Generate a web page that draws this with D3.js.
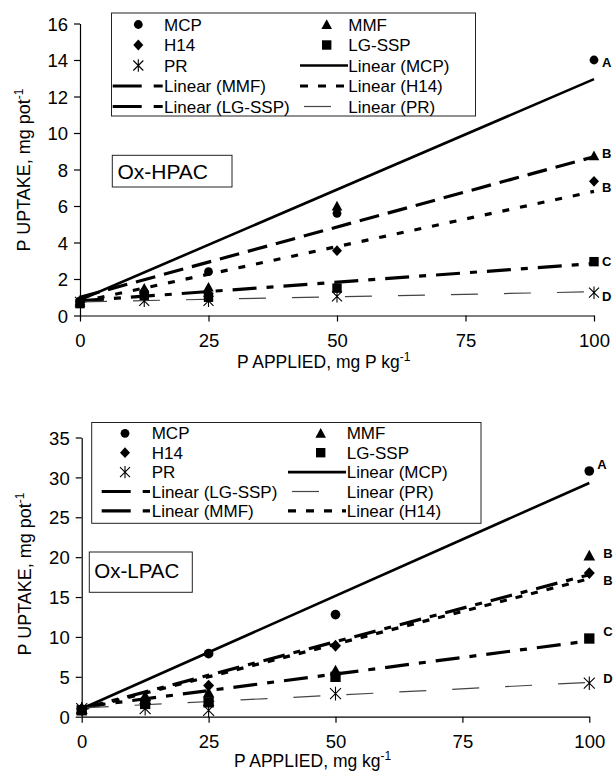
<!DOCTYPE html>
<html><head><meta charset="utf-8">
<script src="https://cdn.jsdelivr.net/npm/d3@7"></script>
<style>
body{margin:0;background:#fff}
svg{display:block}
text{font-family:"Liberation Sans",Arial,sans-serif;fill:#000}
</style>
</head><body>
<svg id="c" width="613" height="772"></svg>
<script>
// ---------- DATA ----------
const xValues = [0, 12.5, 25, 50, 100];
const seriesNames = ["MCP", "MMF", "H14", "LG-SSP", "PR"];
const xTicks = [0, 25, 50, 75, 100];

// Ox-HPAC (top panel)
const hpacMCP   = [0.8, 1.3, 2.4, 5.6, 14.0];
const hpacMMF   = [0.8, 1.5, 1.55, 6.0, 8.75];
const hpacH14   = [0.75, 1.2, 1.2, 3.55, 7.35];
const hpacLGSSP = [0.65, 1.1, 1.0, 1.5, 2.95];
const hpacPR    = [0.75, 0.8, 0.8, 1.05, 1.25];
const hpacTrendAt0   = [0.85, 1.0, 0.75, 0.8, 0.75];
const hpacTrendAt100 = [12.95, 8.7, 6.8, 2.85, 1.3];
const hpacYTicks = [0, 2, 4, 6, 8, 10, 12, 14, 16];
const hpacLetters = ["A", "B", "B", "C", "D"];

// Ox-LPAC (bottom panel)
const lpacMCP   = [0.9, 2.0, 7.9, 12.8, 30.8];
const lpacMMF   = [1.0, 2.6, 3.0, 5.8, 20.2];
const lpacH14   = [1.0, 2.0, 3.9, 8.9, 18.0];
const lpacLGSSP = [0.8, 1.6, 1.8, 5.0, 9.8];
const lpacPR    = [1.0, 1.0, 0.8, 2.9, 4.2];
const lpacTrendAt0   = [1.0, 1.0, 0.9, 1.2, 1.1];
const lpacTrendAt100 = [29.3, 17.8, 17.3, 9.5, 4.3];
const lpacYTicks = [0, 5, 10, 15, 20, 25, 30, 35];
const lpacLetters = ["A", "B", "B", "C", "D"];

const hpacLegendOrder = ["MCP","MMF","H14","LG-SSP","PR","Linear (MCP)","Linear (MMF)","Linear (H14)","Linear (LG-SSP)","Linear (PR)"];
const lpacLegendOrder = ["MCP","MMF","H14","LG-SSP","PR","Linear (MCP)","Linear (LG-SSP)","Linear (PR)","Linear (MMF)","Linear (H14)"];

// ---------- STYLE / LAYOUT ----------
const markerTypes = {"MCP":"circle","MMF":"triangle","H14":"diamond","LG-SSP":"square","PR":"star"};
const FONT = '"Liberation Sans",Arial,sans-serif';

const panels = [
  {
    name: "Ox-HPAC",
    series: [hpacMCP, hpacMMF, hpacH14, hpacLGSSP, hpacPR],
    t0: hpacTrendAt0, t1: hpacTrendAt100,
    yTicks: hpacYTicks, yMax: 16, letters: hpacLetters,
    xr: [80, 594], yr: [315.5, 23.5],
    xTitle: "P APPLIED, mg P kg", xTitleX: 237, xTitleY: 368, tickY: 347,
    yTitleX: 30, yTitleY: 170,
    lineStyles: [
      {w:2.6, dash:null, c:"#000"},
      {w:3.2, dash:"20,9", c:"#000"},
      {w:3.2, dash:"7,11", c:"#000"},
      {w:3.2, dash:"24,10,7,10", c:"#000"},
      {w:1.2, dash:"27,26", c:"#444"}
    ],
    letterOff: [[8,2],[8,-2.5],[8,6],[8,0],[8,4]],
    mScale: 1,
    legend: {order: hpacLegendOrder, box:[111.5,13,475.5,116], row0:24.5, dy:20.5,
             cols:[{m:138.3, t:164, l0:112.7, l1:163},{m:326.7, t:348.3, l0:300, l1:348}]},
    label: {box:[112.3,155.3,232,187], tx:117.4, ty:178.5, fs:21}
  },
  {
    name: "Ox-LPAC",
    series: [lpacMCP, lpacMMF, lpacH14, lpacLGSSP, lpacPR],
    t0: lpacTrendAt0, t1: lpacTrendAt100,
    yTicks: lpacYTicks, yMax: 35, letters: lpacLetters,
    xr: [81.7, 589.3], yr: [716.7, 437.5],
    xTitle: "P APPLIED, mg kg", xTitleX: 234, xTitleY: 767, tickY: 748,
    yTitleX: 31, yTitleY: 574,
    lineStyles: [
      {w:2.6, dash:null, c:"#000"},
      {w:3.2, dash:"22,9,7,9", c:"#000"},
      {w:3.2, dash:"7,9", c:"#000"},
      {w:3.2, dash:"24,10,7,10", c:"#000"},
      {w:1.2, dash:"27,26", c:"#444"}
    ],
    letterOff: [[8,-7],[14,-2],[14,7],[14,-7],[14,-5]],
    mScale: 1.1,
    legend: {order: lpacLegendOrder, box:[91.7,422.5,481,523.3], row0:433.3, dy:19.4,
             cols:[{m:125, t:151.7, l0:101.7, l1:150},{m:320.7, t:346.7, l0:288, l1:346}]},
    label: {box:[89.3,552,192.3,592.3], tx:94.3, ty:578.3, fs:20.5}
  }
];

const svg = d3.select("#c");
svg.append("rect").attr("width",613).attr("height",772).attr("fill","#fff");

function drawMarker(g, type, cx, cy, s) {
  s = s || 1;
  if (type === "circle") {
    g.append("circle").attr("cx",cx).attr("cy",cy).attr("r",4.4*s).attr("fill","#000");
  } else if (type === "triangle") {
    g.append("path").attr("d",`M${cx},${cy-5.2*s}L${cx+5.3*s},${cy+4.4*s}L${cx-5.3*s},${cy+4.4*s}Z`).attr("fill","#000");
  } else if (type === "diamond") {
    g.append("path").attr("d",`M${cx},${cy-5.4*s}L${cx+5*s},${cy}L${cx},${cy+5.4*s}L${cx-5*s},${cy}Z`).attr("fill","#000");
  } else if (type === "square") {
    g.append("rect").attr("x",cx-4.7*s).attr("y",cy-4.7*s).attr("width",9.4*s).attr("height",9.4*s).attr("fill","#000");
  } else if (type === "star") {
    const a = 5*s, b = 6.2*s;
    g.append("path").attr("d",`M${cx-a},${cy-a}L${cx+a},${cy+a}M${cx+a},${cy-a}L${cx-a},${cy+a}M${cx},${cy-b}L${cx},${cy+b}`)
      .attr("stroke","#000").attr("stroke-width",1.1).attr("fill","none");
  }
}

panels.forEach(p => {
  const g = svg.append("g");
  const x = d3.scaleLinear().domain([0,100]).range(p.xr);
  const y = d3.scaleLinear().domain([0,p.yMax]).range(p.yr);

  // axes
  const yAxis = d3.axisLeft(y).tickValues(p.yTicks).tickSize(6).tickSizeOuter(0).tickFormat(d3.format("d"));
  const ya = g.append("g").attr("transform",`translate(${p.xr[0]},0)`).call(yAxis);
  ya.select(".domain").attr("stroke","#000").attr("stroke-width",1.2);
  ya.selectAll(".tick line").attr("stroke","#000").attr("stroke-width",1.2);
  ya.selectAll(".tick text").attr("x",-12).attr("dy","0.36em").style("font-family",FONT).style("font-size","18.5px").attr("fill","#000");

  const xAxis = d3.axisBottom(x).tickValues(xTicks).tickSize(6).tickSizeOuter(0).tickFormat(d3.format("d"));
  const xa = g.append("g").attr("transform",`translate(0,${p.yr[0]})`).call(xAxis);
  xa.select(".domain").attr("stroke","#000").attr("stroke-width",1.2);
  xa.selectAll(".tick line").attr("stroke","#000").attr("stroke-width",1.2);
  xa.selectAll(".tick text").attr("y", p.tickY - p.yr[0]).attr("dy",0).style("font-family",FONT).style("font-size","18.5px").attr("fill","#000");

  // axis titles
  const xt = g.append("text").attr("x",p.xTitleX).attr("y",p.xTitleY).style("font-size","17.5px").text(p.xTitle);
  xt.append("tspan").attr("dy",-7).style("font-size","12px").text("-1");

  const yt = g.append("text").attr("transform",`translate(${p.yTitleX},${p.yTitleY}) rotate(-90)`)
    .attr("text-anchor","middle").style("font-size","18px").text("P UPTAKE, mg pot");
  yt.append("tspan").attr("dy",-7).style("font-size","12px").text("-1");

  // trend lines
  const line = d3.line().x(d => x(d[0])).y(d => y(d[1]));
  p.lineStyles.forEach((st, i) => {
    g.append("path").datum([[0,p.t0[i]],[100,p.t1[i]]]).attr("d",line)
      .attr("fill","none").attr("stroke",st.c).attr("stroke-width",st.w)
      .attr("stroke-dasharray",st.dash);
  });

  // markers
  p.series.forEach((vals, i) => {
    const type = markerTypes[seriesNames[i]];
    vals.forEach((v, j) => drawMarker(g, type, x(xValues[j]), y(v), p.mScale));
  });

  // letters
  p.letters.forEach((L, i) => {
    const v = p.series[i][xValues.length-1];
    g.append("text").attr("x", x(100)+p.letterOff[i][0]).attr("y", y(v)+p.letterOff[i][1]+4.6)
      .style("font-size","13px").style("font-weight","bold").text(L);
  });

  // legend
  const lg = p.legend;
  g.append("rect").attr("x",lg.box[0]).attr("y",lg.box[1]).attr("width",lg.box[2]-lg.box[0]).attr("height",lg.box[3]-lg.box[1])
    .attr("fill","#fff").attr("stroke","#222").attr("stroke-width",1);
  lg.order.forEach((name, k) => {
    const row = Math.floor(k/2), col = lg.cols[k%2];
    const cy = lg.row0 + row*lg.dy;
    if (name.startsWith("Linear")) {
      const sname = name.slice(8, -1);
      const i = seriesNames.indexOf(sname);
      const st = p.lineStyles[i];
      let x0 = col.l0, x1 = col.l1, dash = null;
      if (sname === "PR") { x0 = col.l0 + 4; x1 = col.l0 + 31; }
      else if (sname === "H14") { dash = "8,10"; }
      else if (sname !== "MCP") { dash = "29,12,9,50"; }
      g.append("line").attr("x1",x0).attr("x2",x1).attr("y1",cy).attr("y2",cy)
        .attr("stroke",st.c).attr("stroke-width",st.w).attr("stroke-dasharray",dash);
    } else {
      drawMarker(g, markerTypes[name], col.m, cy, 1);
    }
    g.append("text").attr("x",col.t).attr("y",cy+6).style("font-size","17px").text(name);
  });

  // panel label
  const lb = p.label;
  g.append("rect").attr("x",lb.box[0]).attr("y",lb.box[1]).attr("width",lb.box[2]-lb.box[0]).attr("height",lb.box[3]-lb.box[1])
    .attr("fill","#fff").attr("stroke","#222").attr("stroke-width",1);
  g.append("text").attr("x",lb.tx).attr("y",lb.ty).style("font-size",lb.fs+"px").text(p.name);
});
</script>
</body></html>
